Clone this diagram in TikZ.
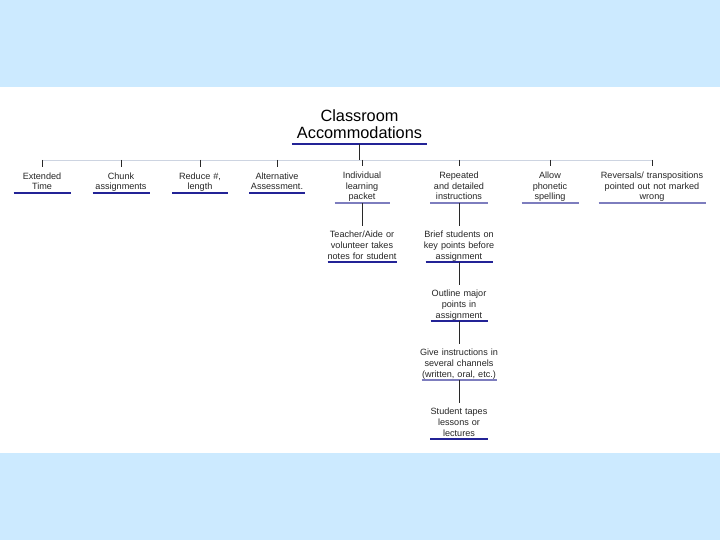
\documentclass[tikz,border=0pt]{standalone}
\usepackage{fontspec}
\setmainfont{Liberation Sans}
\definecolor{bgblue}{RGB}{204,234,255}
\definecolor{navy}{RGB}{35,35,150}
\definecolor{lightnavy}{RGB}{125,125,190}
\definecolor{busgray}{RGB}{205,212,225}
\definecolor{linkgray}{RGB}{40,40,40}
\newcommand{\dpfix}{\rule[-2pt]{0pt}{2pt}}
\tikzset{
  item/.style={inner xsep=0pt, inner ysep=0.8pt, align=center, anchor=south, text width=120pt,
    font=\fontsize{9.1}{10.6}\selectfont, text=black!85},
  ulnavy/.style={draw=navy, line width=2pt},
  ullight/.style={draw=lightnavy, line width=2pt},
  link/.style={draw=linkgray, line width=0.6pt},
}
\begin{document}
\begin{tikzpicture}[x=1pt,y=-1pt]
\useasboundingbox (0,0) rectangle (720,540);
\fill[bgblue] (0,0) rectangle (720,540);
\fill[white] (0,87) rectangle (720,453);
% title
\node[inner xsep=0pt, inner ysep=3pt, align=center, anchor=south,
  font=\fontsize{16.3}{16.8}\selectfont, text width=135pt] (title) at (359.5,144) {Classroom\\Accommodations\dpfix};
\draw[draw=navy, line width=2.8pt] (title.south west) -- (title.south east);
% bus coordinates
\coordinate (bt) at (359.5,160);
\coordinate (b1) at (42,160);
\coordinate (b2) at (121,160);
\coordinate (b3) at (200,160);
\coordinate (b4) at (277,160);
\coordinate (b5) at (362,160);
\coordinate (b6) at (459,160);
\coordinate (b7) at (550,160);
\coordinate (b8) at (652,160);
\draw[draw=busgray, line width=0.8pt] (b1) -- (b8);
\draw[link] (title.south) -- (bt);
% top-level items
\node[item] (n1) at (42,193) {Extended\\Time\dpfix};
\node[item] (n2) at (121,193) {Chunk\\assignments\dpfix};
\node[item] (n3) at (200,193) {Reduce \#,\\length\dpfix};
\node[item] (n4) at (277,193) {Alternative\\Assessment.\dpfix};
\node[item] (n5) at (362,203) {Individual\\learning\\packet\dpfix};
\node[item] (n6) at (459,203) {Repeated\\and detailed\\instructions\dpfix};
\node[item] (n7) at (550,203) {Allow\\phonetic\\spelling\dpfix};
\node[item] (n8) at (652,203) {Reversals/ transpositions\\pointed out not marked\\wrong\dpfix};
\draw[ulnavy] ([xshift=-28.5pt]n1.south) -- ([xshift=28.5pt]n1.south);
\draw[ulnavy] ([xshift=-28.5pt]n2.south) -- ([xshift=28.5pt]n2.south);
\draw[ulnavy] ([xshift=-28pt]n3.south) -- ([xshift=28pt]n3.south);
\draw[ulnavy] ([xshift=-28pt]n4.south) -- ([xshift=28pt]n4.south);
\draw[ullight] ([xshift=-27.5pt]n5.south) -- ([xshift=27.5pt]n5.south);
\draw[ullight] ([xshift=-29pt]n6.south) -- ([xshift=29pt]n6.south);
\draw[ullight] ([xshift=-28.5pt]n7.south) -- ([xshift=28.5pt]n7.south);
\draw[ullight] ([xshift=-53.5pt]n8.south) -- ([xshift=53.5pt]n8.south);
\foreach \i in {1,...,8} {\draw[link, shorten >=5pt] (b\i) -- (n\i.north);}
% sub items
\node[item] (c1) at (362,262) {Teacher/Aide or\\volunteer takes\\notes for student\dpfix};
\node[item] (c2) at (459,262) {Brief students on\\key points before\\assignment\dpfix};
\node[item] (c3) at (459,321) {Outline major\\points in\\assignment\dpfix};
\node[item] (c4) at (459,380) {Give instructions in\\several channels\\(written, oral, etc.)\dpfix};
\node[item] (c5) at (459,439) {Student tapes\\lessons or\\lectures\dpfix};
\draw[ulnavy] ([xshift=-34.5pt]c1.south) -- ([xshift=34.5pt]c1.south);
\draw[ulnavy] ([xshift=-33.5pt]c2.south) -- ([xshift=33.5pt]c2.south);
\draw[ulnavy] ([xshift=-28.5pt]c3.south) -- ([xshift=28.5pt]c3.south);
\draw[ullight] ([xshift=-37.5pt]c4.south) -- ([xshift=37.5pt]c4.south);
\draw[ulnavy] ([xshift=-29pt]c5.south) -- ([xshift=29pt]c5.south);
\draw[link, shorten >=4pt] (n5.south) -- (c1.north);
\draw[link, shorten >=4pt] (n6.south) -- (c2.north);
\draw[link, shorten >=4pt] (c2.south) -- (c3.north);
\draw[link, shorten >=4pt] (c3.south) -- (c4.north);
\draw[link, shorten >=4pt] (c4.south) -- (c5.north);
\end{tikzpicture}
\end{document}
